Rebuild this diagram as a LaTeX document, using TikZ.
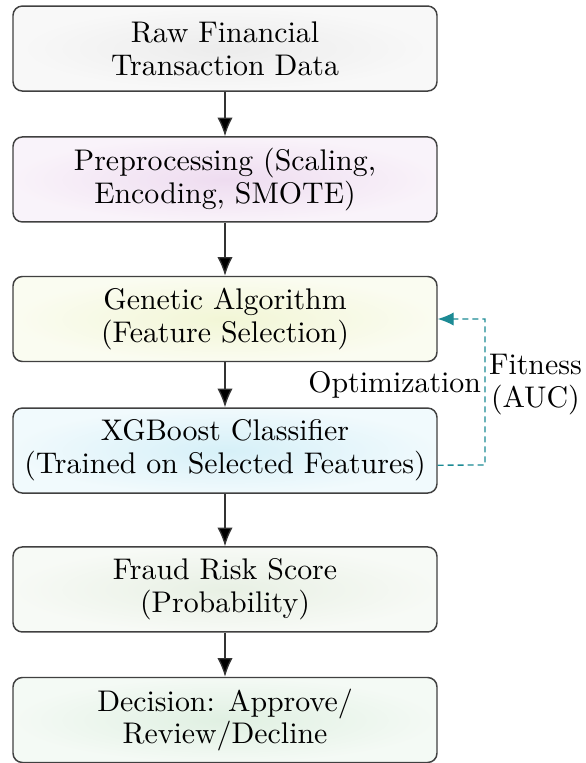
\documentclass[tikz,border=0pt]{standalone}
\usepackage{fontspec}
\setmainfont{lmroman10-regular.otf}
\usetikzlibrary{arrows.meta,shadings}
\definecolor{loopc}{RGB}{28,138,148}
\definecolor{cA}{RGB}{236,236,236}
\definecolor{cB}{RGB}{238,220,240}
\definecolor{cC}{RGB}{242,246,214}
\definecolor{cD}{RGB}{214,240,248}
\definecolor{cE}{RGB}{232,240,228}
\definecolor{cF}{RGB}{224,240,226}
\tikzset{
  procbox/.style={draw=black!75, line width=1.1pt, rounded corners=7pt,
    minimum width=318pt, minimum height=63.75pt, align=center, inner xsep=2pt,
    shading=radial, outer color=#1!35!white, inner color=#1,
    font=\fontsize{22.4}{24.5}\selectfont, text=black},
  flowarrow/.style={draw=black!80, line width=1pt, -{Latex[length=14pt,width=11.5pt,fill=black]}},
  loopline/.style={draw=loopc, line width=1pt, dash pattern=on 4.5pt off 3pt,
    -{Latex[length=12pt,width=10pt]}},
  sidelabel/.style={font=\fontsize{22.4}{24.5}\selectfont, text=black, align=center}
}
\begin{document}
\begin{tikzpicture}
\useasboundingbox (0pt,0pt) rectangle (438.75pt,-572.25pt);
\node[procbox=cA] (raw) at (168.75pt,-36.4pt) {Raw Financial\\Transaction Data};
\node[procbox=cB] (pre) at (168.75pt,-134.6pt) {Preprocessing (Scaling,\\Encoding, SMOTE)};
\node[procbox=cC] (ga) at (168.75pt,-239.25pt) {Genetic Algorithm\\(Feature Selection)};
\node[procbox=cD] (xgb) at (168.75pt,-337.9pt) {XGBoost Classifier\\(Trained on Selected Features)};
\node[procbox=cE] (risk) at (168.75pt,-442.1pt) {Fraud Risk Score\\(Probability)};
\node[procbox=cF] (dec) at (168.75pt,-540pt) {Decision: Approve/\\Review/Decline};
\draw[flowarrow] (raw) -- (pre);
\draw[flowarrow] (pre) -- (ga);
\draw[flowarrow] (ga) -- (xgb);
\draw[flowarrow] (xgb) -- (risk);
\draw[flowarrow] (risk) -- (dec);
\coordinate (lp1) at (363.75pt,-348.75pt);
\coordinate (lp2) at (363.75pt,-239.25pt);
\draw[loopline] ([yshift=-11pt]xgb.east) -- (lp1)
  -- node[sidelabel, pos=0.55, left, inner xsep=2.5pt] {Optimization}
     node[sidelabel, pos=0.55, right, inner xsep=2.5pt] {Fitness\\(AUC)} (lp2) -- (ga.east);
\end{tikzpicture}
\end{document}
